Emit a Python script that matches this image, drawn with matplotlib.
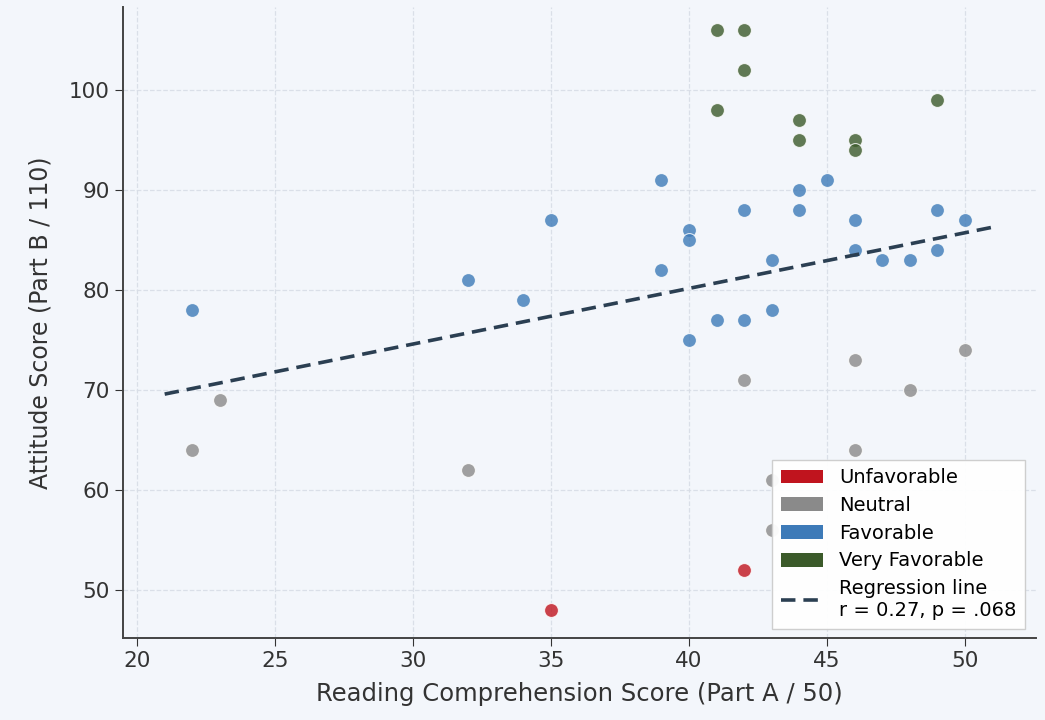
import numpy as np
import matplotlib
matplotlib.use("Agg")
import matplotlib.pyplot as plt
from matplotlib.patches import Patch
from matplotlib.lines import Line2D

categories = ["Unfavorable", "Neutral", "Favorable", "Very Favorable"]
colors = {"Unfavorable": "#c0141e", "Neutral": "#8a8a8a",
          "Favorable": "#3d7ab8", "Very Favorable": "#3b5a2a"}

unfav_x = [35, 42]
unfav_y = [48, 52]

neutral_x = [22, 23, 32, 42, 46, 48, 50, 46, 43, 43]
neutral_y = [64, 69, 62, 71, 73, 70, 74, 64, 61, 56]

fav_x = [22, 32, 34, 35, 39, 39, 40, 40, 40, 41, 42, 42, 43, 43, 44, 44, 45,
         46, 46, 47, 48, 49, 49, 50]
fav_y = [78, 81, 79, 87, 91, 82, 86, 85, 75, 77, 88, 77, 83, 78, 90, 88, 91,
         87, 84, 83, 83, 88, 84, 87]

vfav_x = [41, 42, 42, 41, 44, 44, 46, 46, 49]
vfav_y = [106, 106, 102, 98, 97, 95, 95, 94, 99]

reg_x = [21, 51]
reg_y = [69.6, 86.3]
reg_label = "Regression line\nr = 0.27, p = .068"

bg = "#f3f6fb"
fig = plt.figure(figsize=(10.45, 7.2), dpi=100, facecolor=bg)
ax = fig.add_axes([0.1177, 0.1139, 0.8737, 0.876])
ax.set_facecolor(bg)

groups = [(unfav_x, unfav_y, "Unfavorable"), (neutral_x, neutral_y, "Neutral"),
          (fav_x, fav_y, "Favorable"), (vfav_x, vfav_y, "Very Favorable")]
for gx, gy, name in groups:
    ax.scatter(gx, gy, s=100, color=colors[name], alpha=0.8,
               edgecolors="white", linewidths=0.8, zorder=3)

ax.plot(reg_x, reg_y, linestyle=(0, (4, 2.2)), color="#2b3f52", lw=2.6, zorder=4)

ax.set_xlim(19.49, 52.57)
ax.set_ylim(45.2, 108.3)
ax.set_xticks([20, 25, 30, 35, 40, 45, 50])
ax.set_yticks([50, 60, 70, 80, 90, 100])
ax.tick_params(labelsize=15.5, colors="#333333", length=6)
ax.set_xlabel("Reading Comprehension Score (Part A / 50)", fontsize=17.5,
              color="#333333", labelpad=8)
ax.set_ylabel("Attitude Score (Part B / 110)", fontsize=17, color="#333333",
              labelpad=12)
ax.grid(True, linestyle="--", color="#d8dde6", lw=0.9, alpha=0.9)
ax.set_axisbelow(True)
for s in ["top", "right"]:
    ax.spines[s].set_visible(False)
for s in ["left", "bottom"]:
    ax.spines[s].set_color("#444444")
    ax.spines[s].set_linewidth(1.4)

handles = [Patch(facecolor=colors[c], label=c) for c in categories]
handles.append(Line2D([0], [0], linestyle=(0, (4, 2.2)), color="#2b3f52", lw=2.6,
                      label=reg_label))
leg = ax.legend(handles=handles, loc="lower right", fontsize=14, frameon=True,
                framealpha=0.95, facecolor="white", edgecolor="#cccccc",
                fancybox=False, borderaxespad=0, handlelength=2.2,
                handletextpad=0.8, labelspacing=0.45, borderpad=0.45,
                bbox_to_anchor=(1025 / 1045, (720 - 629) / 720),
                bbox_transform=fig.transFigure)

fig.savefig("out.png", dpi=100, facecolor=bg)
